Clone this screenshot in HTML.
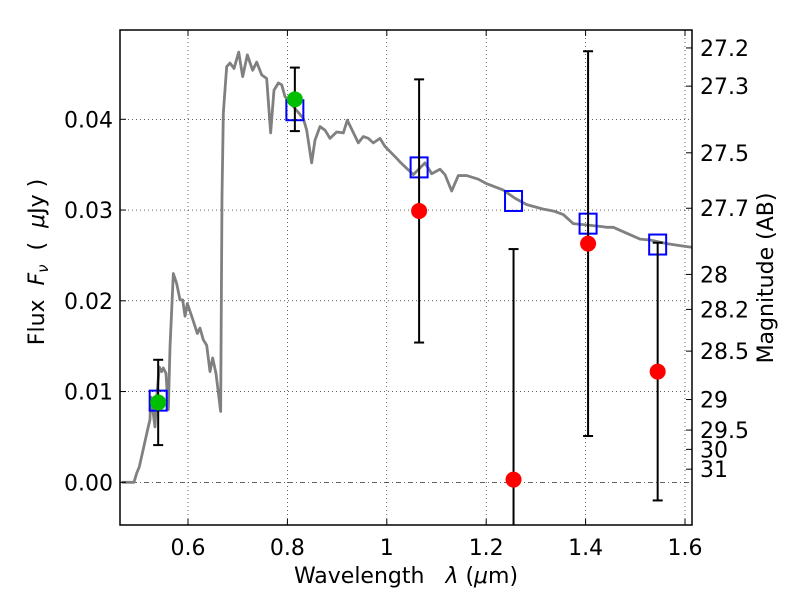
<!DOCTYPE html>
<html><head><meta charset="utf-8"><style>
html,body{margin:0;background:#fff;width:800px;height:600px;overflow:hidden;}
svg{display:block;}
svg text{font-family:"DejaVu Sans","Liberation Sans",sans-serif;}
</style></head><body>
<svg id="chart" width="800" height="600" xmlns="http://www.w3.org/2000/svg"></svg>
<script>
const specLam=[0.4666,0.4913,0.4967,0.502,0.520,0.5235,0.5249,0.530,0.5336,0.537,0.5423,0.547,0.5503,0.5557,0.5604,0.5638,0.5705,0.5772,0.5839,0.5893,0.594,0.5987,0.6074,0.6188,0.6241,0.6308,0.6376,0.6443,0.6496,0.6563,0.6657,0.6684,0.6711,0.6778,0.6845,0.6926,0.7020,0.7100,0.7194,0.7301,0.7382,0.7482,0.7583,0.7663,0.7730,0.7818,0.7885,0.7952,0.8320,0.8388,0.8488,0.8555,0.8656,0.8757,0.8857,0.8991,0.9125,0.9206,0.9427,0.9528,0.9628,0.9729,0.9863,0.9964,1.0199,1.0266,1.0533,1.0769,1.0903,1.1070,1.1171,1.1305,1.1439,1.1608,1.1841,1.2010,1.2344,1.2579,1.2815,1.3149,1.3350,1.3551,1.3753,1.4290,1.4424,1.4557,1.5094,1.5296,1.5632,1.6000,1.6141];
const specFlux=[0,0,0.0010,0.0017,0.0061,0.0069,0.0094,0.0076,0.0061,0.0094,0.0127,0.0122,0.0126,0.0120,0.0080,0.0149,0.0230,0.0219,0.0201,0.0201,0.0183,0.0197,0.0183,0.0164,0.0170,0.0157,0.0151,0.0122,0.0137,0.0120,0.0078,0.0315,0.0407,0.0458,0.0462,0.0456,0.0474,0.0447,0.0471,0.0454,0.0463,0.0449,0.0445,0.0385,0.0432,0.0440,0.0438,0.0425,0.0401,0.0388,0.0352,0.0377,0.0392,0.0388,0.0379,0.0386,0.0385,0.0399,0.0374,0.0381,0.0379,0.0374,0.0379,0.0370,0.0357,0.0353,0.0339,0.0352,0.0340,0.0345,0.0339,0.0321,0.0338,0.0338,0.0334,0.0329,0.0322,0.0313,0.0306,0.0301,0.0299,0.0295,0.0285,0.0282,0.0281,0.0281,0.0268,0.0267,0.0263,0.0260,0.0259];
const modelLam=[0.54,0.815,1.065,1.255,1.405,1.545];
const modelFlux=[0.0090,0.0410,0.0347,0.0310,0.0285,0.0262];
const detLam=[0.54,0.815];
const detFlux=[0.0088,0.0422];
const detErr=[0.0047,0.0035];
const ndLam=[1.065,1.255,1.405,1.545];
const ndFlux=[0.0299,0.0003,0.0263,0.0122];
const ndErr=[0.0145,0.0254,0.0212,0.0142];
const xTicks=[0.6,0.8,1.0,1.2,1.4,1.6];
const xTickLabels=["0.6","0.8","1","1.2","1.4","1.6"];
const yTicks=[0,0.01,0.02,0.03,0.04];
const yTickLabels=["0.00","0.01","0.02","0.03","0.04"];
const magTicks=[27.2,27.3,27.5,27.7,28,28.2,28.5,29,29.5,30,31];

const L=120,R=692,T=30,B=525;
const X=v=>188+(v-0.6)*497;
const Y=v=>482.3-v*9075;
const NS="http://www.w3.org/2000/svg";
const svg=document.getElementById('chart');
function mk(tag,attrs,parent){const e=document.createElementNS(NS,tag);for(const k in attrs)e.setAttribute(k,attrs[k]);(parent||svg).appendChild(e);return e;}
const defs=mk('defs',{});const cp=mk('clipPath',{id:'c'},defs);mk('rect',{x:L,y:T,width:R-L,height:B-T},cp);
const plot=mk('g',{'clip-path':'url(#c)'});


xTicks.forEach((t,i)=>{const g=mk('line',{x1:X(t),x2:X(t),y1:T,y2:B,stroke:'#000','stroke-width':0.6,'stroke-dasharray':'1,3'},plot);

});
yTicks.forEach((t,i)=>{const g=mk('line',{x1:L,x2:R,y1:Y(t),y2:Y(t),stroke:'#000','stroke-width':0.6,'stroke-dasharray':t===0?'5,3,1,3':'1,3'},plot);

});
const sp=mk('polyline',{points:specLam.map((l,i)=>X(l)+','+Y(specFlux[i])).join(' '),fill:'none',stroke:'#808080','stroke-width':2.8,'stroke-linejoin':'round'},plot);


modelLam.forEach((l,i)=>{const s=mk('rect',{x:X(l)-8.5,y:Y(modelFlux[i])-10,width:17,height:20,fill:'none',stroke:'#0000ff','stroke-width':2},plot);

});
function errbar(l,f,e,col,nm){
 const x=X(l),y1=Y(f+e),y2=Y(f-e);
 const g=mk('g',{},plot);
 
 
 mk('line',{x1:x,x2:x,y1:y1,y2:y2,stroke:'#000','stroke-width':2},g);
 mk('line',{x1:x-5,x2:x+5,y1:y1,y2:y1,stroke:'#000','stroke-width':2},g);
 mk('line',{x1:x-5,x2:x+5,y1:y2,y2:y2,stroke:'#000','stroke-width':2},g);
 mk('circle',{cx:x,cy:Y(f),r:8,fill:col},g);
}
detLam.forEach((l,i)=>errbar(l,detFlux[i],detErr[i],'#00bf00','detection-point'));
ndLam.forEach((l,i)=>errbar(l,ndFlux[i],ndErr[i],'#ff0000','nondetection-point'));
const fr=mk('rect',{x:L,y:T,width:R-L,height:B-T,fill:'none',stroke:'#000','stroke-width':1.5});


xTicks.forEach((t,i)=>{mk('line',{x1:X(t),x2:X(t),y1:B,y2:B-6,stroke:'#000'});mk('line',{x1:X(t),x2:X(t),y1:T,y2:T+6,stroke:'#000'});
const tx=mk('text',{x:X(t),y:B+30,'text-anchor':'middle','font-size':22});tx.textContent=xTickLabels[i];

});
yTicks.forEach((t,i)=>{mk('line',{x1:L,x2:L+6,y1:Y(t),y2:Y(t),stroke:'#000'});
const tx=mk('text',{x:L-7,y:Y(t)+8,'text-anchor':'end','font-size':22});tx.textContent=yTickLabels[i];

});
magTicks.forEach(m=>{const f=Math.pow(10,(23.9-m)/2.5);const y=Y(f);
mk('line',{x1:R,x2:R-6,y1:y,y2:y,stroke:'#000'});
const tx=mk('text',{x:R+8,y:y+8,'font-size':22});tx.textContent=String(m);

});
const xl=mk('text',{x:406,y:583,'text-anchor':'middle','font-size':22});
xl.innerHTML='Wavelength\u00a0\u00a0\u00a0<tspan font-style="italic">λ</tspan>\u00a0(<tspan font-style="italic">μ</tspan>m)';


const yl=mk('text',{x:0,y:0,'text-anchor':'middle','font-size':22,transform:'translate(44,262) rotate(-90)'});
yl.innerHTML='Flux\u00a0\u00a0<tspan font-style="italic">F</tspan><tspan font-style="italic" font-size="15" dy="4">ν</tspan><tspan dy="-4">\u00a0\u00a0(\u00a0\u00a0</tspan><tspan font-style="italic">μ</tspan>Jy\u00a0)';


const rl=mk('text',{x:0,y:0,'text-anchor':'middle','font-size':22,transform:'translate(773,278) rotate(-90)'});
rl.textContent='Magnitude (AB)';


</script>
</body></html>
